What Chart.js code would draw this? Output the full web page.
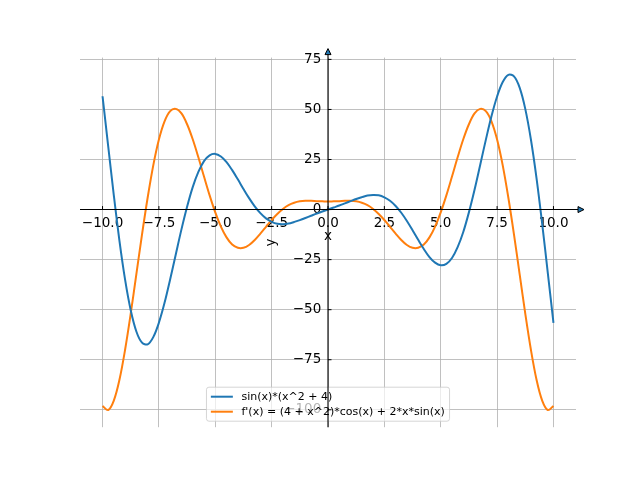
<!DOCTYPE html>
<html>
<head>
<meta charset="utf-8">
<script src="https://cdn.jsdelivr.net/npm/chart.js@4"></script>
<style>
html, body { margin: 0; padding: 0; background: #fff; }
#chart { display: block; }
</style>
</head>
<body>
<canvas id="chart" width="640" height="480"></canvas>
<script>
// sample positions along x
const xValues = [
  -10, -9.75, -9.5, -9.25, -9, -8.75, -8.5, -8.25, -8, -7.75, -7.5, -7.25, -7, -6.75, -6.5, -6.25,
  -6, -5.75, -5.5, -5.25, -5, -4.75, -4.5, -4.25, -4, -3.75, -3.5, -3.25, -3, -2.75, -2.5, -2.25,
  -2, -1.75, -1.5, -1.25, -1, -0.75, -0.5, -0.25, 0, 0.25, 0.5, 0.75, 1, 1.25, 1.5, 1.75,
  2, 2.25, 2.5, 2.75, 3, 3.25, 3.5, 3.75, 4, 4.25, 4.5, 4.75, 5, 5.25, 5.5, 5.75,
  6, 6.25, 6.5, 6.75, 7, 7.25, 7.5, 7.75, 8, 8.25, 8.5, 8.75, 9, 9.25, 9.5, 9.75, 10
];

// blue curve  sin(x)*(x^2 + 4)
const fValues = [
  56.6, 31.7, 7.1, -15.6, -35.0, -50.3, -60.9, -66.5, -67.3, -63.7, -56.5, -46.6, -34.8, -22.3, -9.9, 1.4,
  11.2, 18.8, 24.2, 27.1, 27.8, 26.5, 23.7, 19.7, 15.1, 10.3, 5.7, 1.6, -1.8, -4.4, -6.1, -7.1,
  -7.3, -7.0, -6.2, -5.3, -4.2, -3.1, -2.0, -1.0, 0.0, 1.0, 2.0, 3.1, 4.2, 5.3, 6.2, 7.0,
  7.3, 7.1, 6.1, 4.4, 1.8, -1.6, -5.7, -10.3, -15.1, -19.7, -23.7, -26.5, -27.8, -27.1, -24.2, -18.8,
  -11.2, -1.4, 9.9, 22.3, 34.8, 46.6, 56.5, 63.7, 67.3, 66.5, 60.9, 50.3, 35.0, 15.6, -7.1, -31.7, -56.6
];

// orange curve  f'(x)
const dfValues = [
  -98.1, -100.1, -95.4, -85.0, -70.0, -52.0, -32.3, -12.5, 5.9, 22.1, 35.0, 44.1, 49.2, 50.3, 48.0, 42.6,
  35.1, 26.1, 16.5, 7.1, -1.4, -8.5, -13.9, -17.5, -19.1, -19.1, -17.7, -15.2, -12.0, -8.6, -5.2, -2.2,
  0.3, 2.2, 3.4, 4.1, 4.4, 4.4, 4.2, 4.1, 4.0, 4.1, 4.2, 4.4, 4.4, 4.1, 3.4, 2.2,
  0.3, -2.2, -5.2, -8.6, -12.0, -15.2, -17.7, -19.1, -19.1, -17.5, -13.9, -8.5, -1.4, 7.1, 16.5, 26.1,
  35.1, 42.6, 48.0, 50.3, 49.2, 44.1, 35.0, 22.1, 5.9, -12.5, -32.3, -52.0, -70.0, -85.0, -95.4, -100.1, -98.1
];

const seriesNames = ["sin(x)*(x^2 + 4)", "f'(x) = (4 + x^2)*cos(x) + 2*x*sin(x)"];

const xTicks = [-10, -7.5, -5, -2.5, 0, 2.5, 5, 7.5, 10];
const xTickLabels = ["\u221210.0", "\u22127.5", "\u22125.0", "\u22122.5", "0.0", "2.5", "5.0", "7.5", "10.0"];
const yTicks = [-100, -75, -50, -25, 0, 25, 50, 75];
const yTickLabels = ["\u2212100", "\u221275", "\u221250", "\u221225", "0", "25", "50", "75"];

const FONT = '"DejaVu Sans", sans-serif';

function toPoints(ys) {
  return xValues.map((x, i) => ({x: x, y: ys[i]}));
}

// matplotlib style legend, lower centre of the axes
const boxLegend = {
  id: 'boxLegend',
  afterDraw(chart) {
    const {ctx, chartArea: a} = chart;
    const sets = chart.data.datasets;
    ctx.save();
    ctx.font = '11px ' + FONT;
    const textW = Math.max(...sets.map(d => ctx.measureText(d.label).width));
    const w = 4.4 + 22 + 8.9 + textW + 4.4;
    const h = 34;
    const left = (a.left + a.right) / 2 - w / 2;
    const top = a.bottom - 6 - h;
    ctx.beginPath();
    ctx.roundRect(left, top, w, h, 2.5);
    ctx.fillStyle = 'rgba(255,255,255,0.7)';
    ctx.fill();
    ctx.strokeStyle = 'rgba(204,204,204,0.8)';
    ctx.lineWidth = 1;
    ctx.stroke();
    sets.forEach((d, i) => {
      const cy = top + 9.5 + i * 15;
      ctx.strokeStyle = d.borderColor;
      ctx.lineWidth = 2;
      ctx.beginPath();
      ctx.moveTo(left + 4.4, cy);
      ctx.lineTo(left + 26.4, cy);
      ctx.stroke();
      ctx.fillStyle = '#000';
      ctx.textAlign = 'left';
      ctx.textBaseline = 'middle';
      ctx.fillText(d.label, left + 35, cy);
    });
    ctx.restore();
  }
};

// spines through the origin, small tick marks, arrows and axis names
const axesDecor = {
  id: 'axesDecor',
  afterDraw(chart) {
    const {ctx, chartArea: a, scales} = chart;
    const x0 = scales.x.getPixelForValue(0);
    const y0 = scales.y.getPixelForValue(0);
    ctx.save();
    ctx.strokeStyle = '#000';
    ctx.lineWidth = 1.1;
    ctx.beginPath();
    ctx.moveTo(a.left, y0);
    ctx.lineTo(a.right + 3, y0);
    ctx.moveTo(x0, a.bottom);
    ctx.lineTo(x0, a.top - 4);
    ctx.stroke();

    ctx.lineWidth = 1;
    ctx.beginPath();
    for (const t of xTicks) {
      const px = scales.x.getPixelForValue(t);
      ctx.moveTo(px, y0);
      ctx.lineTo(px, y0 - 3.5);
    }
    for (const t of yTicks) {
      const py = scales.y.getPixelForValue(t);
      ctx.moveTo(x0, py);
      ctx.lineTo(x0 + 3.5, py);
    }
    ctx.stroke();

    // arrow heads
    ctx.fillStyle = '#1f77b4';
    ctx.lineWidth = 1;
    ctx.beginPath();
    ctx.moveTo(a.right + 2, y0 - 3);
    ctx.lineTo(a.right + 8, y0);
    ctx.lineTo(a.right + 2, y0 + 3);
    ctx.closePath();
    ctx.fill();
    ctx.stroke();
    ctx.beginPath();
    ctx.moveTo(x0 - 3, a.top - 3);
    ctx.lineTo(x0, a.top - 9);
    ctx.lineTo(x0 + 3, a.top - 3);
    ctx.closePath();
    ctx.fill();
    ctx.stroke();

    // axis names
    ctx.fillStyle = '#000';
    ctx.font = '13.5px ' + FONT;
    ctx.textAlign = 'center';
    ctx.textBaseline = 'middle';
    ctx.fillText('x', (a.left + a.right) / 2, y0 + 27);
    ctx.translate(271, (a.top + a.bottom) / 2);
    ctx.rotate(-Math.PI / 2);
    ctx.fillText('y', 0, 0);
    ctx.restore();
  }
};

new Chart(document.getElementById('chart'), {
  type: 'line',
  data: {
    datasets: [
      {label: seriesNames[0], data: toPoints(fValues), borderColor: '#1f77b4', borderWidth: 2,
       pointRadius: 0, tension: 0.35, fill: false},
      {label: seriesNames[1], data: toPoints(dfValues), borderColor: '#ff7f0e', borderWidth: 2,
       pointRadius: 0, tension: 0.35, fill: false}
    ]
  },
  options: {
    responsive: false,
    animation: false,
    devicePixelRatio: 1,
    layout: {padding: {left: 80, right: 64, top: 57.6, bottom: 52.8}},
    plugins: {legend: {display: false}, tooltip: {enabled: false}},
    scales: {
      x: {
        type: 'linear',
        position: {y: 0},
        min: -11,
        max: 11,
        afterBuildTicks: s => { s.ticks = xTicks.map(v => ({value: v})); },
        grid: {color: '#b0b0b0', lineWidth: 0.8, drawTicks: false},
        border: {display: false},
        ticks: {
          autoSkip: false, maxRotation: 0, padding: 6, color: '#000',
          font: {family: FONT, size: 13.5},
          callback: (v, i) => xTickLabels[i]
        }
      },
      y: {
        type: 'linear',
        position: {x: 0},
        min: -108.7,
        max: 75.9,
        afterBuildTicks: s => { s.ticks = yTicks.map(v => ({value: v})); },
        grid: {color: '#b0b0b0', lineWidth: 0.8, drawTicks: false},
        border: {display: false},
        ticks: {
          autoSkip: false, padding: 6, color: '#000',
          font: {family: FONT, size: 13.5},
          // trailing en space keeps the labels clear of the spine
          callback: (v, i) => yTickLabels[i] + '\u2002'
        }
      }
    }
  },
  plugins: [boxLegend, axesDecor]
});
</script>
</body>
</html>
